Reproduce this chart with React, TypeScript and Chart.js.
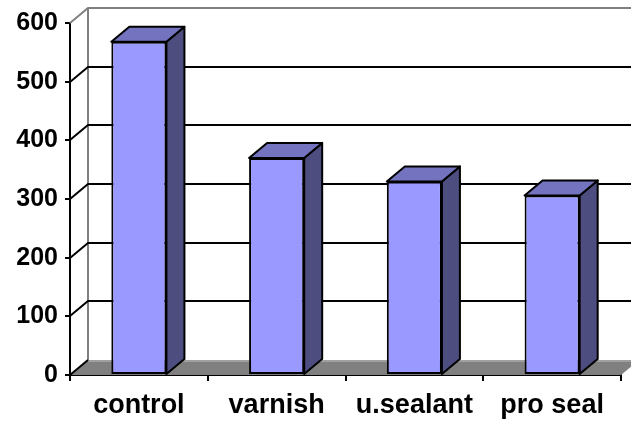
import React, { useEffect, useRef } from "react";
import { Chart, registerables } from "chart.js";

Chart.register(...registerables);

const categories = ["control", "varnish", "u.sealant", "pro seal"];
const values = [568, 370, 330, 306];
const yTicks = [0, 100, 200, 300, 400, 500, 600];

const DX = 18;
const DY = 15;

const threeD = {
  id: "threeD",
  beforeDatasetsDraw(chart: any) {
    const ctx = chart.ctx;
    const { left, right, top, bottom } = chart.chartArea;
    const ys = chart.scales.y;
    const W = chart.width;
    ctx.save();
    // floor
    ctx.fillStyle = "#808080";
    ctx.beginPath();
    ctx.moveTo(left, bottom);
    ctx.lineTo(right, bottom);
    ctx.lineTo(right + DX, bottom - DY);
    ctx.lineTo(left + DX, bottom - DY);
    ctx.closePath();
    ctx.fill();
    ctx.strokeStyle = "#a0a0a0";
    ctx.lineWidth = 2;
    ctx.beginPath();
    ctx.moveTo(left + DX, bottom - DY + 1);
    ctx.lineTo(right + DX, bottom - DY + 1);
    ctx.stroke();
    // back wall left edge
    ctx.strokeStyle = "#808080";
    ctx.lineWidth = 2;
    ctx.beginPath();
    ctx.moveTo(left + DX, top - DY);
    ctx.lineTo(left + DX, bottom - DY);
    ctx.stroke();
    // gridlines
    yTicks.forEach((v) => {
      const yy = Math.round(ys.getPixelForValue(v));
      const isTop = v === yTicks[yTicks.length - 1];
      ctx.strokeStyle = isTop ? "#808080" : "#000";
      ctx.lineWidth = 2;
      ctx.beginPath();
      ctx.moveTo(left, yy);
      ctx.lineTo(left + DX, yy - DY);
      if (v !== 0) ctx.lineTo(W, yy - DY);
      ctx.stroke();
    });
    ctx.restore();
  },
  afterDatasetsDraw(chart: any) {
    const ctx = chart.ctx;
    const meta = chart.getDatasetMeta(0);
    ctx.save();
    ctx.lineWidth = 2;
    ctx.strokeStyle = "#000";
    ctx.lineJoin = "round";
    meta.data.forEach((bar: any) => {
      const { x, y, base, width } = bar.getProps(["x", "y", "base", "width"], true);
      const l = x - width / 2;
      const r = x + width / 2;
      // side
      ctx.fillStyle = "#4D4D80";
      ctx.beginPath();
      ctx.moveTo(r, y);
      ctx.lineTo(r + DX, y - DY);
      ctx.lineTo(r + DX, base - DY);
      ctx.lineTo(r, base);
      ctx.closePath();
      ctx.fill();
      ctx.stroke();
      // top
      ctx.fillStyle = "#7373BF";
      ctx.beginPath();
      ctx.moveTo(l, y);
      ctx.lineTo(l + DX, y - DY);
      ctx.lineTo(r + DX, y - DY);
      ctx.lineTo(r, y);
      ctx.closePath();
      ctx.fill();
      ctx.stroke();
    });
    ctx.restore();
  },
};

export default function App() {
  const ref = useRef<HTMLCanvasElement>(null);
  useEffect(() => {
    document.body.style.margin = "0";
    const chart = new Chart(ref.current!, {
      type: "bar",
      data: {
        labels: categories,
        datasets: [
          {
            data: values,
            backgroundColor: "#9999FF",
            borderColor: "#000",
            borderWidth: 2,
            borderSkipped: false,
            barPercentage: 0.4,
            categoryPercentage: 1,
          },
        ],
      },
      options: {
        animation: false,
        responsive: false,
        devicePixelRatio: 1,
        layout: { padding: { top: 23, right: 10, left: 0, bottom: 0 } },
        plugins: { legend: { display: false }, tooltip: { enabled: false } },
        scales: {
          x: {
            offset: true,
            grid: {
              offset: true,
              drawOnChartArea: false,
              tickLength: 6,
              color: "#000",
              lineWidth: 2,
            },
            border: { color: "#000", width: 2 },
            ticks: {
              color: "#000",
              padding: 8,
              maxRotation: 0,
              font: { family: "'Liberation Sans', Arial, sans-serif", size: 27, weight: "bold" },
            },
            afterFit: (s: any) => {
              s.height = 48;
            },
          },
          y: {
            min: 0,
            max: 600,
            grid: {
              drawOnChartArea: false,
              tickLength: 5,
              color: "#000",
              lineWidth: 2,
            },
            border: { color: "#000", width: 2 },
            ticks: {
              stepSize: 100,
              color: "#000",
              padding: 7,
              font: { family: "'Liberation Sans', Arial, sans-serif", size: 25, weight: "bold" },
            },
            afterFit: (s: any) => {
              s.width = 70;
            },
          },
        },
      },
      plugins: [threeD],
    });
    return () => chart.destroy();
  }, []);
  return (
    <div style={{ width: 631, height: 423 }}>
      <canvas ref={ref} width={631} height={423} />
    </div>
  );
}
